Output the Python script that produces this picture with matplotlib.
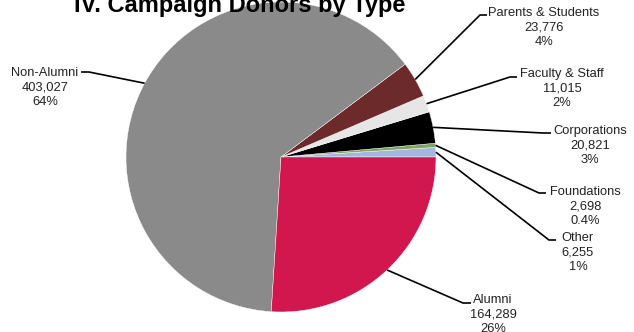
import numpy as np
import matplotlib
matplotlib.use('Agg')
import matplotlib.pyplot as plt

plt.rcParams['font.family'] = ['Liberation Sans', 'DejaVu Sans']

# data, counter-clockwise from 3 o'clock
labels = ['Other', 'Foundations', 'Corporations', 'Faculty & Staff',
          'Parents & Students', 'Non-Alumni', 'Alumni']
donors = [6255, 2698, 20821, 11015, 23776, 403027, 164289]
pct_text = ['1%', '0.4%', '3%', '2%', '4%', '64%', '26%']
colors = ['#A3B5E0', '#7FA65A', '#000000', '#E6E6E6', '#6C2A2B', '#8A8A8A', '#D1174E']

W, H = 634, 332
cx, cy, rad = 281, H - 157, 155

# label layout in image pixels: text centre x, first line y, elbow, line end
text_pos = {
    'Other': (578, 236, (549, 240), (556, 240)),
    'Foundations': (585, 190, (539, 193), (546, 193)),
    'Corporations': (590, 129, (543, 133), (551, 133)),
    'Faculty & Staff': (562, 72, (510, 77), (517, 77)),
    'Parents & Students': (544, 11, (480, 15), (487, 15)),
    'Non-Alumni': (45, 71, (89, 72), (81, 72)),
    'Alumni': (493, 298, (463, 303), (471, 303)),
}

fig = plt.figure(figsize=(W / 100, H / 100), dpi=100)
ax = fig.add_axes([0, 0, 1, 1])

wedges, _ = ax.pie(donors, colors=colors, startangle=0, counterclock=True,
                   center=(cx, cy), radius=rad,
                   wedgeprops=dict(linewidth=0.3, edgecolor='white'))

for w, lab, n, p in zip(wedges, labels, donors, pct_text):
    mid = np.deg2rad((w.theta1 + w.theta2) / 2)
    px = cx + rad * np.cos(mid)
    py = cy + rad * np.sin(mid)
    tx, ty, elbow, end = text_pos[lab]
    ax.plot([px, elbow[0], end[0]], [py, H - elbow[1], H - end[1]],
            color='black', lw=1.2, solid_capstyle='butt')
    ax.text(tx, H - ty + 4, '%s\n%s\n%s' % (lab, format(n, ','), p),
            ha='center', va='top', fontsize=9.3, color='#222222',
            linespacing=1.26)

ax.text(240, H - 12, 'IV. Campaign Donors by Type', ha='center', va='baseline',
        fontsize=17, fontweight='bold', color='black')

ax.set_xlim(0, W)
ax.set_ylim(0, H)
ax.set_aspect('equal')
ax.axis('off')

fig.savefig('out.png', dpi=100, facecolor='white')
